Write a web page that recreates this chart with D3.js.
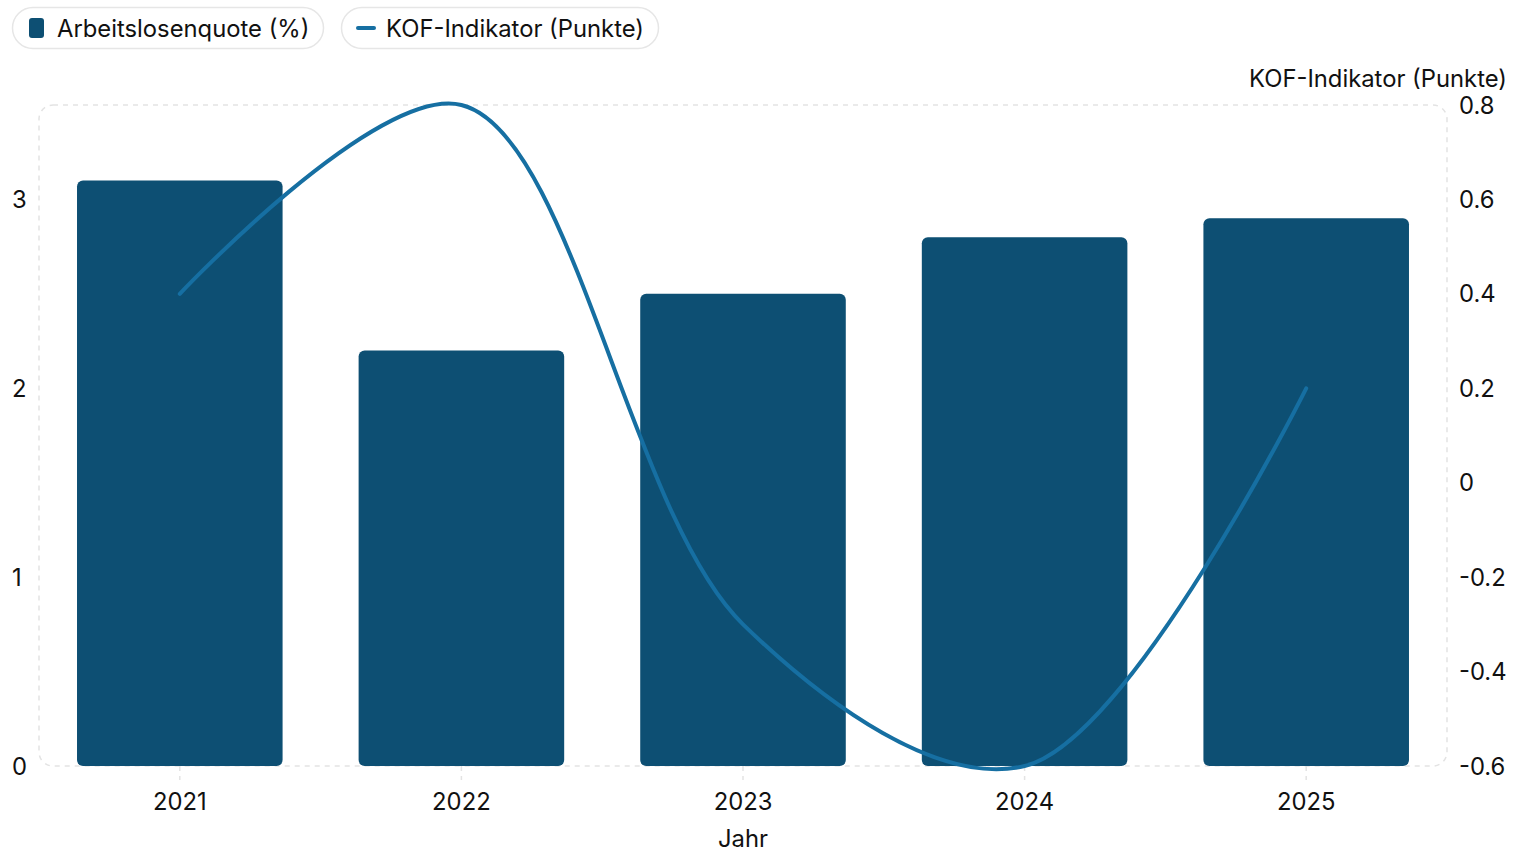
<!DOCTYPE html>
<html><head><meta charset="utf-8">
<script src="https://cdn.jsdelivr.net/npm/d3@7"></script>
<style>
html,body{margin:0;padding:0;background:#fff;}
svg{display:block;font-family:Inter,"Noto Sans",sans-serif;}
</style></head>
<body>
<svg id="chart" width="1513" height="850"></svg>
<script>
const years = ["2021","2022","2023","2024","2025"];
const unemployment = [3.1, 2.2, 2.5, 2.8, 2.9];
const kof = [0.4, 0.8, -0.3, -0.6, 0.2];
const leftTicks = [0, 1, 2, 3];
const rightTicks = [0.8, 0.6, 0.4, 0.2, 0, -0.2, -0.4, -0.6];
const seriesNames = ["Arbeitslosenquote (%)", "KOF-Indikator (Punkte)"];
const xTitle = "Jahr";
const rightTitle = "KOF-Indikator (Punkte)";

const barColor = "#0d4f73";
const lineColor = "#166fa2";
const gridColor = "#e3e3e3";
const FS = 23.8;

const svg = d3.select("#chart");
const m = {left:39, right:1447, top:105, bottom:766};

const x = d3.scaleBand().domain(years).range([m.left, m.right]).paddingInner(0.27).paddingOuter(0.135);
const yL = d3.scaleLinear().domain([0, 3.5]).range([m.bottom, m.top]);
const yR = d3.scaleLinear().domain([-0.6, 0.8]).range([m.bottom, m.top]);

// plot frame
svg.append("rect").attr("x", m.left).attr("y", m.top)
  .attr("width", m.right - m.left).attr("height", m.bottom - m.top)
  .attr("rx", 14).attr("fill", "none").attr("stroke", gridColor)
  .attr("stroke-width", 1.5).attr("stroke-dasharray", "5 5");

// x tick marks
svg.append("g").selectAll("line").data(years).join("line")
  .attr("x1", d => x(d) + x.bandwidth()/2).attr("x2", d => x(d) + x.bandwidth()/2)
  .attr("y1", m.bottom).attr("y2", m.bottom + 14)
  .attr("stroke", gridColor).attr("stroke-width", 1.5).attr("stroke-dasharray", "5 5");

// bars
svg.append("g").selectAll("rect").data(years).join("rect")
  .attr("x", d => x(d)).attr("width", x.bandwidth())
  .attr("y", (d,i) => yL(unemployment[i]))
  .attr("height", (d,i) => yL(0) - yL(unemployment[i]))
  .attr("rx", 6).attr("fill", barColor);

// line
const line = d3.line()
  .x((d,i) => x(years[i]) + x.bandwidth()/2)
  .y(d => yR(d))
  .curve(d3.curveCatmullRom.alpha(0.5));
svg.append("path").datum(kof).attr("d", line)
  .attr("fill", "none").attr("stroke", lineColor).attr("stroke-width", 4)
  .attr("stroke-linecap", "round").attr("stroke-linejoin", "round");

// x labels
svg.append("g").selectAll("text").data(years).join("text")
  .attr("x", d => x(d) + x.bandwidth()/2).attr("y", 801)
  .attr("text-anchor", "middle").attr("dominant-baseline", "central")
  .attr("font-size", FS).attr("fill", "#111").text(d => d);
svg.append("text").attr("x", (m.left + m.right)/2).attr("y", 838)
  .attr("text-anchor", "middle").attr("dominant-baseline", "central")
  .attr("font-size", FS).attr("fill", "#111").text(xTitle);

// left ticks
svg.append("g").selectAll("text").data(leftTicks).join("text")
  .attr("x", 12).attr("y", d => yL(d))
  .attr("text-anchor", "start").attr("dominant-baseline", "central")
  .attr("font-size", FS).attr("fill", "#111").text(d => d);

// right ticks
svg.append("g").selectAll("text").data(rightTicks).join("text")
  .attr("x", 1459).attr("y", d => yR(d))
  .attr("text-anchor", "start").attr("dominant-baseline", "central")
  .attr("font-size", FS).attr("fill", "#111").text(d => d3.format("")(d).replace("−","-"));
svg.append("text").attr("x", 1507).attr("y", 78)
  .attr("text-anchor", "end").attr("dominant-baseline", "central")
  .attr("font-size", FS).attr("fill", "#111").text(rightTitle);

// legend
const lg = svg.append("g");
const pills = [{x:12, w:311}, {x:341, w:317}];
pills.forEach((p, i) => {
  lg.append("rect").attr("x", p.x + 0.5).attr("y", 7.5).attr("width", p.w).attr("height", 41)
    .attr("rx", 20.5).attr("fill", "#fff").attr("stroke", "#e6e6e6").attr("stroke-width", 1.5);
  if (i === 0) {
    lg.append("rect").attr("x", p.x + 17).attr("y", 18).attr("width", 15).attr("height", 20)
      .attr("rx", 3).attr("fill", barColor);
  } else {
    lg.append("line").attr("x1", p.x + 17).attr("x2", p.x + 33).attr("y1", 28).attr("y2", 28)
      .attr("stroke", lineColor).attr("stroke-width", 4).attr("stroke-linecap", "round");
  }
  lg.append("text").attr("x", p.x + 45).attr("y", 28)
    .attr("dominant-baseline", "central").attr("font-size", FS).attr("fill", "#111")
    .text(seriesNames[i]);
});
</script>
</body></html>
